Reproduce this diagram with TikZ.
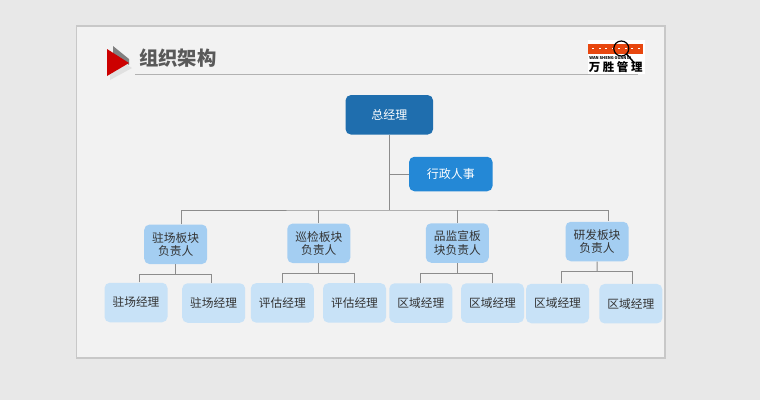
\documentclass[tikz,border=0pt]{standalone}
\usepackage{fontspec}
\setmainfont{Noto Sans CJK SC}
\usetikzlibrary{arrows}
\newcommand{\px}{0.75pt}
\definecolor{pagegray}{HTML}{E8E8E8}
\definecolor{slidegray}{HTML}{F2F2F2}
\definecolor{rimgray}{HTML}{C8C8C8}
\definecolor{linegray}{HTML}{8C8C8C}
\definecolor{titlegray}{HTML}{595959}
\definecolor{logored}{HTML}{E8470F}
\definecolor{chiefblue}{HTML}{1F6EAE}
\definecolor{adminblue}{HTML}{2488D6}
\definecolor{leaderblue}{HTML}{A4CEF2}
\definecolor{staffblue}{HTML}{C8E2F7}
\tikzstyle{chief} = [
    rectangle,
    rounded corners=4pt,
    minimum width=87.5*\px,
    minimum height=39.5*\px,
    inner sep=0pt,
    fill=chiefblue,
    text=white,
    font=\fontsize{9}{11}\selectfont
]
\tikzstyle{admin} = [
    chief,
    minimum width=83.5*\px,
    minimum height=34.5*\px,
    fill=adminblue
]
\tikzstyle{leader} = [
    rectangle,
    rounded corners=4pt,
    minimum width=63*\px,
    minimum height=39.5*\px,
    inner sep=0pt,
    align=center,
    fill=leaderblue,
    text=black!80,
    font=\fontsize{8.8}{9.9}\selectfont
]
\tikzstyle{staff} = [
    leader,
    fill=staffblue
]
\tikzstyle{line} = [line width=0.75pt, draw=linegray]
\begin{document}
\begin{tikzpicture}[x=\px, y=-\px, node distance=60*\px]

\useasboundingbox (0,0) rectangle (760,400);
\fill [pagegray] (0,0) rectangle (760,400);
\fill [rimgray] (75.5,25) rectangle (666,358.5);
\fill [slidegray] (77,26.5) rectangle (664,356.5);

% heading
\fill [black!12] (110,54) -- (132,68) -- (110,80) -- cycle;
\fill [gray] (113,46) -- (129,59) -- (129,65) -- (113,55) -- cycle;
\fill [red!80!black] (107,49) -- (129,63) -- (107,76) -- cycle;
\node (title) [anchor=west, inner sep=0pt, text=titlegray, font=\fontsize{14.5}{16}\selectfont\bfseries] at (139,58) {组织架构};
\draw [black!30, line width=0.75pt] (135,74) -- (638,74);

% logo
\fill [white] (587.5,40) rectangle (645,74);
\fill [logored] (588,43.5) rectangle (643,53.5);
\foreach \i in {0,...,7} {
    \fill [white] (592+6.5*\i,47.5) rectangle ++(2,1);
}
\draw [black, line width=0.9pt] (621.3,48.5) circle (7.5);
\draw [black, line width=1.1pt] (626.5,54) -- (634,62.5);
\node (logoen) [anchor=west, inner sep=0pt, font=\fontsize{3}{3}\selectfont\bfseries] at (589,58.5) {WAN SHENG GUAN LI};
\node (logocn) [anchor=west, inner sep=0pt, font=\fontsize{8.6}{9}\selectfont\bfseries] at (588.5,67.5) {万 胜 管 理};

% boxes
\node (zong) [chief] at (389.3,114.8) {总经理};

\node (hang) [admin, below of=zong, xshift=61.5*\px, yshift=0.8*\px] {行政人事};

\node (zhu) [leader, below of=zong, xshift=-213.6*\px, yshift=-69.5*\px] {驻场板块\\负责人};
\node (xun) [leader, below of=zong, xshift=-70.5*\px, yshift=-68.5*\px] {巡检板块\\负责人};
\node (pin) [leader, below of=zong, xshift=68*\px, yshift=-68.2*\px] {品监宣板\\块负责人};
\node (yan) [leader, below of=zong, xshift=207.7*\px, yshift=-66.7*\px] {研发板块\\负责人};

\node (zhua) [staff, below of=zhu, xshift=-39.7*\px, yshift=1.8*\px] {驻场经理};
\node (zhub) [staff, below of=zhu, xshift=38*\px, yshift=1.3*\px] {驻场经理};
\node (xuna) [staff, below of=xun, xshift=-36.5*\px, yshift=0.4*\px] {评估经理};
\node (xunb) [staff, below of=xun, xshift=35.7*\px, yshift=0.4*\px] {评估经理};
\node (pina) [staff, below of=pin, xshift=-36.5*\px, yshift=0*\px] {区域经理};
\node (pinb) [staff, below of=pin, xshift=35.2*\px, yshift=0*\px] {区域经理};
\node (yana) [staff, below of=yan, xshift=-39.5*\px, yshift=-2*\px] {区域经理};
\node (yanb) [staff, below of=yan, xshift=33.8*\px, yshift=-2.2*\px] {区域经理};

\coordinate (bus) at (389.3,210);
\coordinate (forkzhu) at (175.7,274.3);
\coordinate (forkxun) at (318.8,273.3);
\coordinate (forkpin) at (457.3,273.3);
\coordinate (forkyan) at (597,271.7);

% connectors
\draw [line] (zong) -- (bus);
\draw [line] (hang) -- (hang -| zong);
\draw [line] ([xshift=5.3*\px]zhu.north) |- (bus) -| ([xshift=11*\px]yan.north);
\draw [line] (xun.north) -- (xun |- bus);
\draw [line] (pin.north) -- (pin |- bus);

\draw [line] (zhu) -- (forkzhu);
\draw [line] ([xshift=3.3*\px]zhua.north) |- (forkzhu) -| ([xshift=-2*\px]zhub.north);
\draw [line] (xun) -- (forkxun);
\draw [line] (xuna.north) |- (forkxun) -| (xunb.north);
\draw [line] (pin) -- (forkpin);
\draw [line] (pina.north) |- (forkpin) -| (pinb.north);
\draw [line] (yan) -- (forkyan);
\draw [line] ([xshift=3.5*\px]yana.north) |- (forkyan) -| ([xshift=1.9*\px]yanb.north);

\end{tikzpicture}
\end{document}
